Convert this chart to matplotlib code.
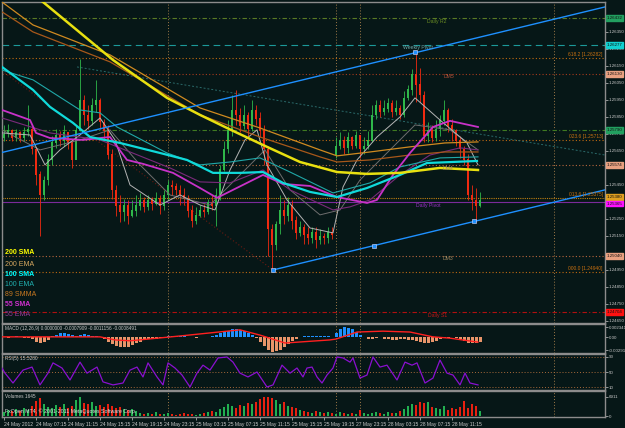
import numpy as np
import matplotlib
matplotlib.use('Agg')
import matplotlib.pyplot as plt
from matplotlib.transforms import blended_transform_factory

plt.rcParams['font.family'] = ['Liberation Sans', 'DejaVu Sans']

# ---------------- data ----------------
opens = np.array([
 1.2573,1.2575,1.2577,1.2573,1.2576,1.2573,1.2576,1.2578,1.2566,1.2551,
 1.2539,1.2548,1.2560,1.2570,1.2574,1.2571,1.2576,1.2570,1.2560,1.2577,
 1.2595,1.2586,1.2583,1.2592,1.2595,1.2582,1.2577,1.2563,1.2542,1.2533,
 1.2529,1.2533,1.2527,1.2530,1.2533,1.2536,1.2532,1.2536,1.2534,1.2537,
 1.2533,1.2539,1.2545,1.2544,1.2542,1.2539,1.2537,1.2530,1.2524,1.2527,
 1.2530,1.2529,1.2535,1.2533,1.2539,1.2554,1.2566,1.2577,1.2589,1.2586,
 1.2580,1.2586,1.2578,1.2589,1.2584,1.2577,1.2566,1.2519,1.2510,1.2522,
 1.2530,1.2527,1.2533,1.2524,1.2517,1.2520,1.2516,1.2514,1.2517,1.2513,
 1.2515,1.2514,1.2517,1.2563,1.2568,1.2571,1.2567,1.2573,1.2568,1.2574,
 1.2566,1.2568,1.2571,1.2586,1.2592,1.2588,1.2590,1.2593,1.2588,1.2590,
 1.2586,1.2596,1.2601,1.2610,1.2604,1.2598,1.2574,1.2577,1.2573,1.2578,
 1.2583,1.2589,1.2580,1.2577,1.2571,1.2566,1.2560,1.2539,1.2536,1.2533])
closes = np.array([
 1.2575,1.2577,1.2573,1.2576,1.2573,1.2576,1.2578,1.2566,1.2551,1.2539,
 1.2548,1.2560,1.2570,1.2574,1.2571,1.2576,1.2570,1.2560,1.2577,1.2595,
 1.2586,1.2583,1.2592,1.2595,1.2582,1.2577,1.2563,1.2542,1.2533,1.2529,
 1.2533,1.2527,1.2530,1.2533,1.2536,1.2532,1.2536,1.2534,1.2537,1.2533,
 1.2539,1.2545,1.2544,1.2542,1.2539,1.2537,1.2530,1.2524,1.2527,1.2530,
 1.2529,1.2535,1.2533,1.2539,1.2554,1.2566,1.2577,1.2589,1.2586,1.2580,
 1.2586,1.2578,1.2589,1.2584,1.2577,1.2566,1.2519,1.2510,1.2522,1.2530,
 1.2527,1.2533,1.2524,1.2517,1.2520,1.2516,1.2514,1.2517,1.2513,1.2515,
 1.2514,1.2517,1.2516,1.2568,1.2571,1.2567,1.2573,1.2568,1.2574,1.2566,
 1.2568,1.2571,1.2586,1.2592,1.2588,1.2590,1.2593,1.2588,1.2590,1.2586,
 1.2596,1.2601,1.2610,1.2604,1.2598,1.2574,1.2577,1.2573,1.2578,1.2583,
 1.2589,1.2580,1.2577,1.2571,1.2566,1.2560,1.2539,1.2536,1.2533,1.2536])
highs = np.array([
 1.2580,1.2581,1.2578,1.2578,1.2577,1.2579,1.2592,1.2579,1.2567,1.2553,
 1.2550,1.2563,1.2574,1.2578,1.2577,1.2580,1.2576,1.2571,1.2580,1.2619,
 1.2598,1.2592,1.2596,1.2607,1.2596,1.2584,1.2580,1.2566,1.2545,1.2539,
 1.2537,1.2536,1.2536,1.2539,1.2540,1.2538,1.2539,1.2538,1.2541,1.2539,
 1.2542,1.2548,1.2548,1.2546,1.2545,1.2543,1.2539,1.2533,1.2532,1.2533,
 1.2534,1.2537,1.2539,1.2543,1.2557,1.2571,1.2583,1.2598,1.2601,1.2590,
 1.2592,1.2588,1.2595,1.2592,1.2588,1.2580,1.2568,1.2522,1.2524,1.2539,
 1.2536,1.2538,1.2536,1.2527,1.2524,1.2522,1.2520,1.2520,1.2520,1.2519,
 1.2517,1.2520,1.2520,1.2573,1.2576,1.2574,1.2576,1.2574,1.2577,1.2574,
 1.2573,1.2577,1.2592,1.2595,1.2595,1.2595,1.2596,1.2595,1.2595,1.2592,
 1.2600,1.2604,1.2613,1.2623,1.2614,1.2600,1.2582,1.2580,1.2583,1.2586,
 1.2595,1.2590,1.2584,1.2578,1.2574,1.2568,1.2563,1.2545,1.2543,1.2541])
lows = np.array([
 1.2571,1.2573,1.2571,1.2571,1.2570,1.2571,1.2574,1.2563,1.2545,1.2515,
 1.2536,1.2545,1.2557,1.2567,1.2568,1.2568,1.2566,1.2555,1.2560,1.2577,
 1.2580,1.2578,1.2580,1.2588,1.2578,1.2571,1.2560,1.2537,1.2527,1.2523,
 1.2524,1.2522,1.2526,1.2527,1.2530,1.2529,1.2530,1.2530,1.2533,1.2528,
 1.2530,1.2536,1.2539,1.2539,1.2533,1.2533,1.2526,1.2520,1.2522,1.2526,
 1.2526,1.2528,1.2530,1.2521,1.2536,1.2553,1.2564,1.2574,1.2580,1.2576,
 1.2578,1.2574,1.2577,1.2580,1.2573,1.2557,1.2503,1.2495,1.2507,1.2516,
 1.2522,1.2524,1.2519,1.2513,1.2515,1.2510,1.2510,1.2511,1.2508,1.2510,
 1.2510,1.2511,1.2513,1.2561,1.2566,1.2563,1.2564,1.2566,1.2567,1.2561,
 1.2563,1.2566,1.2570,1.2584,1.2585,1.2586,1.2588,1.2585,1.2586,1.2584,
 1.2585,1.2595,1.2598,1.2594,1.2594,1.2570,1.2570,1.2570,1.2571,1.2574,
 1.2580,1.2576,1.2571,1.2568,1.2561,1.2557,1.2536,1.2530,1.2523,1.2532])
volumes = np.array([
 1440,2160,1800,2520,1800,2880,2160,3600,5400,6480,
 4320,3240,2880,3960,3240,4320,2880,3600,5760,6840,
 4680,4320,5040,3600,3960,3240,4320,3600,2880,3240,
 2520,2160,2520,1800,1080,720,1080,720,1440,720,
 720,1080,720,360,720,1080,720,720,360,720,
 1080,1440,1800,1440,2520,3240,4320,3600,2880,3960,
 3600,4680,4320,5040,6120,6700,6911,6480,5760,4320,
 5040,3600,3240,2880,2160,1800,1440,1080,1800,1440,
 1080,1440,1080,720,1440,1080,720,1080,720,2160,
 1080,720,1080,1440,1080,720,1440,1080,1080,1800,
 2520,3600,4320,3960,5040,4680,5040,3240,2880,2520,
 3600,2160,2880,2520,3240,5400,2880,4320,3600,1800])
macd_hist = np.array([
 1,-1,1,2,1,-1,-2, -5,-10,-13,-10,-6, 2,6,9,10,8,5, 3,6,8, 6,4,3,1,
 -4,-10,-16,-20,-23,-23,-21,-18,-14, -10,-7,-5,-4,-3,-2, 1,3,4,4,3,2,
 1,0,-1,0,1,1, 3,6,9,12,15,18,19,17,14,10, 5,-2,-10,-20,-28,-33,-32,-28,-22,-15,
 -8,-3,1,2,2,3,2,2,2,2,1, 10,18,23,22,18,12,6, 1,-3,-4,-2,0,
 -3,-5,-6,-6,-5,-5,-6,-6, -8,-10,-12,-13,-11,-8, -4,-2,-1,1,-2,-5,
 -9,-12,-13,-12,-11]) * 1e-4
signal_idx = [-0.5, 24, 27.75, 31.5, 44, 59, 64, 70.25, 81.5, 83, 88.25, 94.75, 101.5, 107.25, 111.5, 118.5]
signal_val = np.array([1, 1, -6, -8, 3, 17, 5, -13, -6, -4, 12, 14, 12, 1, -2, -11]) * 1e-4

rsi_idx = [-0.5,0.25,2.25,4.75,7,9,11,12.25,14.5,16.5,19,20.75,23.25,24.75,27.25,29.75,31.5,33.25,
           34.75,36,38.25,39.75,41,42.75,44.5,46.5,48.25,49.75,51.5,53.5,55.75,57.25,59,61,63.25,
           65.75,67.25,69.5,71.5,73.25,74.75,75.75,77,78.25,79.5,80.75,82.25,83.25,84.75,86.5,
           87.25,89,90.75,92.25,94,95.75,98.25,100.25,102,103.25,105.25,107.25,109,110.75,112.25,
           114,115.25,116.5,118.5]
rsi_val = [60.5,47,21,55,63,16,47,74,60.5,29,76,47,63,24,16,21,55,63,
           37,74,37,16,74,60.5,42,10.5,47,68,55,87,89.5,76,47,37,50,
           10.5,16,68,47,60.5,37,60.5,63,37,21,42,60.5,89.5,87,76,
           87,34,42,89.5,63,68,29,76,68,74,21,34,81.5,47,42,
           16,47,21,16]

# moving averages: (bar index, price)
sma200_x = [-0.5, 9.75, 27.25, 40.75, 49, 57.25, 65.75, 74, 83.25, 90.75, 99, 109, 118.5]
sma200_y = [1.26715, 1.26526, 1.26185, 1.25962, 1.25862, 1.25768, 1.25674, 1.25585, 1.25526, 1.25515, 1.25521, 1.25550, 1.25538]
ema200_x = [-0.5, 7.25, 26.5, 49, 64, 79, 83.25, 91.5, 101.5, 110.25, 118.5]
ema200_y = [1.26526, 1.26391, 1.26215, 1.25903, 1.25785, 1.25656, 1.25621, 1.25644, 1.25674, 1.25697, 1.25703]
smma89_x = [-0.5, 7.25, 26.5, 49, 64, 79, 83.25, 91.5, 101.5, 110.25, 118.5]
smma89_y = [1.26468, 1.26350, 1.26174, 1.25862, 1.25732, 1.25615, 1.25585, 1.25597, 1.25626, 1.25644, 1.25644]
sma100_x = [-0.5, 7.25, 11.5, 17.25, 21.5, 29, 39, 45.75, 52.25, 59, 64.75, 69.75, 76.5, 83.25, 90.75, 99, 105.75, 118.25]
sma100_y = [1.26144, 1.26009, 1.25909, 1.25815, 1.25732, 1.25697, 1.25638, 1.25597, 1.25521, 1.25521, 1.25526,
            1.25462, 1.25409, 1.25379, 1.25432, 1.25509, 1.25579, 1.25591]
ema100_x = [-0.5, 7.25, 19, 24, 28.25, 40.75, 49, 56.5, 64, 71.5, 82.25, 91.5, 99, 109, 118.5]
ema100_y = [1.26126, 1.26068, 1.25891, 1.25874, 1.25791, 1.25638, 1.25568, 1.25585, 1.25609, 1.25526,
            1.25403, 1.25462, 1.25556, 1.25609, 1.25615]
sma55_x = [-0.5, 6.5, 8, 11.5, 19.75, 26.5, 30.75, 34.75, 42.25, 49, 53.25, 57.25, 64.75, 69.75, 76.5,
           83.25, 90.75, 93.25, 97.25, 101.5, 107.25, 111.5, 118.5]
sma55_y = [1.25891, 1.25832, 1.25756, 1.25726, 1.25715, 1.25732, 1.25597, 1.25574, 1.25521, 1.25432, 1.25374,
           1.25421, 1.25509, 1.25456, 1.25444, 1.25379, 1.25344, 1.25362, 1.25509, 1.25638, 1.25791, 1.25827, 1.25791]
ema55_x = [-0.5, 11.5, 24, 31.5, 41.5, 49, 56.5, 64.75, 71.5, 82.25, 86.5, 91.5, 99, 106.5, 114, 118.5]
ema55_y = [1.25844, 1.25756, 1.25715, 1.25644, 1.25550, 1.25468, 1.25462, 1.25538, 1.25421, 1.25303,
           1.25321, 1.25362, 1.25509, 1.25626, 1.25668, 1.25656]
fast_x = [-0.5, 6.5, 10.25, 14, 19, 24, 27.75, 31.5, 39, 44, 49, 52.75, 56.5, 60.25, 63.25, 65.75, 70.75,
          76.5, 82.25, 84.75, 88.25, 93.25, 99, 102.75, 109, 115.75, 118.5]
fast_y = [1.25756, 1.25744, 1.25568, 1.25656, 1.25744, 1.25844, 1.25715, 1.25450, 1.25332, 1.25391, 1.25332,
          1.25303, 1.25538, 1.25715, 1.25774, 1.25568, 1.25362, 1.25197, 1.25168, 1.25438, 1.25597, 1.25732,
          1.25850, 1.25962, 1.25832, 1.25697, 1.25568]
slow_x = [-0.5, 9, 19, 26.5, 34, 41.5, 51.5, 59, 65.25, 71.5, 79, 84, 89, 96.5, 102.75, 111.5, 118.5]
slow_y = [1.25774, 1.25656, 1.25715, 1.25774, 1.25568, 1.25391, 1.25332, 1.25509, 1.25656, 1.25421,
          1.25274, 1.25303, 1.25479, 1.25656, 1.25803, 1.25774, 1.25656]

# trend lines
chan_up_x = [-0.5, 150.25]
chan_up_y = [1.25641, 1.26497]
chan_lo_x = [67.25, 150.25]
chan_lo_y = [1.24950, 1.25421]
handle_x = [102.75, 67.25, 92.5, 117.5]
handle_y = [1.26230, 1.24950, 1.25093, 1.25235]
red_diag_x = [-0.5, 67.25]
red_diag_y = [1.26121, 1.24950]
teal_diag_x = [18.25, 150.25]
teal_diag_y = [1.26144, 1.25626]

# horizontal levels: price, colour, style
levels = [
    (1.26432, '#5a7a25', (0, (4, 2, 1, 2))),
    (1.26274, '#1c9a9a', (0, (6, 4))),
    (1.26197, '#c06a10', (0, (1, 2))),
    (1.26103, '#a83a1c', (0, (1, 2))),
    (1.25774, '#3f7a22', (0, (4, 2, 1, 2))),
    (1.25715, '#c06a10', (0, (1, 2))),
    (1.25568, '#b8683e', (0, (1, 2))),
    (1.25374, '#c08010', (0, (1, 1))),
    (1.25350, '#7a2a9a', '-'),
    (1.25032, '#b8683e', (0, (1, 2))),
    (1.24938, '#c06a10', (0, (1, 2))),
    (1.24703, '#b01010', (0, (4, 2, 1, 2))),
]
right_boxes = [
    (1.26432, '1.26432', '#22a060'),
    (1.26274, '1.26277', '#10d0d0'),
    (1.26103, '1.26130', '#e8a080'),
    (1.25774, '1.25790', '#22a060'),
    (1.25568, '1.25574', '#e8a080'),
    (1.25380, '1.25380', '#e0a020'),
    (1.25340, '1.25365', '#ff10ff'),
    (1.25032, '1.25040', '#e8a080'),
    (1.24703, '1.24704', '#ff1010'),
]
fib_texts = [(1.26197, '618.2 [1.26282]'), (1.25715, '023.6 [1.25713]'),
             (1.25374, '013.6 [1.25375]'), (1.24938, '000.0 [1.24940]')]
level_names = [
    (108.25, 1.26409, 'Daily R2', '#6b8e23'),
    (103.5, 1.26256, 'Weekly Pivot', '#70a8a8'),
    (111.25, 1.26085, 'DM5', '#b05038'),
    (111.0, 1.25544, 'DM4', '#a08860'),
    (106.0, 1.25332, 'Daily Pivot', '#9a30c8'),
    (111.0, 1.25015, 'DM3', '#a08860'),
    (108.5, 1.24685, 'Daily S1', '#c01818'),
]
legend_items = [('200 SMA', '#ffff00', 'bold'), ('200 EMA', '#d8a860', 'normal'),
                ('100 SMA', '#00ffff', 'bold'), ('100 EMA', '#20b0b0', 'normal'),
                ('89 SMMA', '#c87820', 'normal'), ('55 SMA', '#d030d0', 'bold'),
                ('55 EMA', '#9a3a9a', 'normal')]
# visible price ticks (those hidden behind the coloured level boxes are left out)
price_ticks = [1.2465, 1.2475, 1.2485, 1.2495, 1.2515, 1.2525, 1.2545, 1.2555,
               1.2565, 1.2575, 1.2585, 1.2595, 1.2605, 1.2615, 1.2625, 1.2635]
time_ticks = [0, 8, 16, 24, 32, 40, 48, 56, 64, 72, 80, 88, 96, 104, 112]
time_labels = ['24 May 2012', '24 May 07:15', '24 May 11:15', '24 May 15:15', '24 May 19:15',
               '24 May 23:15', '25 May 03:15', '25 May 07:15', '25 May 11:15', '25 May 15:15',
               '25 May 19:15', '27 May 23:15', '28 May 03:15', '28 May 07:15', '28 May 11:15']
separators = [41, 83, 89, 137.5]

# ---------------- drawing ----------------
W, H = 625, 428
BG = '#061717'
GRAY = '#8c8c8c'
TXT = '#c8c8c8'
fig = plt.figure(figsize=(W / 100, H / 100), dpi=100)
fig.patch.set_facecolor(BG)


def add_ax(x0, y0, x1, y1):
    a = fig.add_axes([x0 / W, 1 - y1 / H, (x1 - x0) / W, (y1 - y0) / H])
    a.set_facecolor(BG)
    for s in a.spines.values():
        s.set_color(GRAY)
        s.set_linewidth(1.0)
    a.set_xlim(-0.5, 150.25)
    a.yaxis.tick_right()
    a.tick_params(axis='y', length=2, width=0.5, pad=0.8, labelsize=3.2, colors=TXT)
    a.tick_params(axis='x', bottom=False, labelbottom=False)
    for b in separators:
        a.axvline(b, color='#a07a48', ls=(0, (1, 2)), lw=0.7, zorder=1)
    return a


ax = add_ax(2, 2, 605, 323)
axm = add_ax(2, 324, 605, 353)
axr = add_ax(2, 354, 605, 390)
axv = add_ax(2, 391, 605, 417)

# main panel
ax.set_ylim(1.24638, 1.26526)
ax.set_yticks(price_ticks)
ax.set_yticklabels([f'{t:.5f}' for t in price_ticks])
for p, c, ls in levels:
    ax.axhline(p, color=c, ls=ls, lw=0.8, zorder=2)

ax.plot(teal_diag_x, teal_diag_y, color='#2a6a6a', ls=(0, (2, 2)), lw=0.7, zorder=2)
ax.plot(red_diag_x, red_diag_y, color='#6a1a10', ls=(0, (1, 2)), lw=0.8, zorder=2)

idx = np.arange(len(closes))
up = closes >= opens
col = np.where(up, '#2fb84a', '#f02a10')
ax.vlines(idx, lows, highs, colors=col, lw=0.6, zorder=4)
ax.bar(idx, np.abs(closes - opens) + 0.00003, bottom=np.minimum(opens, closes) - 0.000015,
       width=0.62, color=col, linewidth=0, zorder=5)

ax.plot(slow_x, slow_y, color='#6e6e6e', lw=0.7, zorder=6)
ax.plot(fast_x, fast_y, color='#b4b4b4', lw=0.7, zorder=6)
ax.plot(ema55_x, ema55_y, color='#7a2a7a', lw=0.8, zorder=6)
ax.plot(smma89_x, smma89_y, color='#a8581a', lw=0.9, zorder=6)
ax.plot(ema200_x, ema200_y, color='#d08a20', lw=0.9, zorder=6)
ax.plot(ema100_x, ema100_y, color='#20a8a8', lw=0.8, zorder=6)
ax.plot(sma55_x, sma55_y, color='#c832c8', lw=1.3, zorder=7)
ax.plot(sma100_x, sma100_y, color='#10dada', lw=1.6, zorder=7)
ax.plot(sma200_x, sma200_y, color='#e8e010', lw=1.8, zorder=7)

ax.plot(chan_up_x, chan_up_y, color='#1e90ff', lw=1.0, zorder=8)
ax.plot(chan_lo_x, chan_lo_y, color='#1e90ff', lw=1.0, zorder=8)
ax.plot(handle_x, handle_y, 's', ms=2.2, mfc='#1e90ff', mec='#e0e0ff', mew=0.4, zorder=9)

for bx, p, t, c in level_names:
    ax.text(bx, p, t, color=c, fontsize=3.7, ha='center', va='center', zorder=9)
for p, t in fib_texts:
    ax.text(149.7, p + 0.00004, t, color='#c87010', fontsize=3.5, ha='right', va='bottom', zorder=9)

trans = blended_transform_factory(ax.transAxes, ax.transData)
for p, t, c in right_boxes:
    ax.text(1.003, p, t, transform=trans, fontsize=3.2, color='#101010', va='center', ha='left',
            bbox=dict(boxstyle='square,pad=0.15', fc=c, ec=c), clip_on=False, zorder=12)

for k, (t, c, w) in enumerate(legend_items):
    ypx = [253, 264, 274, 284, 294, 304, 314][k]
    fig.text(5 / W, 1 - ypx / H, t, color=c, fontsize=5.0, fontweight=w, va='center', ha='left')

# MACD panel
axm.set_ylim(-0.00358, 0.003032)
mcol = np.where(macd_hist >= 0, '#1e90ff', '#e8956a')
axm.bar(idx, macd_hist, width=0.75, color=mcol, linewidth=0, zorder=3)
axm.plot(signal_idx, signal_val, color='#ff2020', lw=1.0, zorder=4)
axm.set_yticks([0.002341, 0.0, -0.002912])
axm.set_yticklabels(['0.002341', '0.00', '-0.002912'])
axm.text(0.005, 0.86, 'MACD (12,26,9) 0.0000000 -0.0007909 -0.0011156 -0.0008491',
         transform=axm.transAxes, fontsize=3.4, color=TXT, va='center', ha='left')

# RSI panel
axr.set_ylim(2.6, 97.4)
for lv in [90, 50, 10]:
    axr.axhline(lv, color='#a86a3a', ls=(0, (1, 2)), lw=0.7, zorder=1)
axr.plot(rsi_idx, rsi_val, color='#8a10d0', lw=0.9, zorder=3)
axr.set_yticks([90, 50, 10])
axr.set_yticklabels(['90', '50', '10'])
axr.text(0.005, 0.88, 'RSI(5) 15.5280', transform=axr.transAxes, fontsize=3.4, color=TXT,
         va='center', ha='left')

# Volume panel
axv.set_ylim(-360, 9000)
vcol = np.where(up, '#22b050', '#e82010')
axv.bar(idx, volumes, width=0.7, color=vcol, linewidth=0, zorder=3)
axv.set_yticks([6911, 0])
axv.set_yticklabels(['6911', '0'])
axv.text(0.005, 0.8, 'Volumes 1645', transform=axv.transAxes, fontsize=3.4, color=TXT,
         va='center', ha='left')
axv.text(0.005, 0.24, 'FxOpen MT4, \u00a9 2001-2011 MetaQuotes Software Corp.', transform=axv.transAxes,
         fontsize=3.8, color='#e0e0e0', va='center', ha='left', zorder=5)
axv.tick_params(axis='x', bottom=True, labelbottom=True, length=2, width=0.5, pad=1.5,
                labelsize=3.6, colors=TXT)
axv.set_xticks(time_ticks)
axv.set_xticklabels(time_labels)
for lab in axv.get_xticklabels():
    lab.set_ha('left')

fig.savefig('out.png', dpi=100, facecolor=BG)
